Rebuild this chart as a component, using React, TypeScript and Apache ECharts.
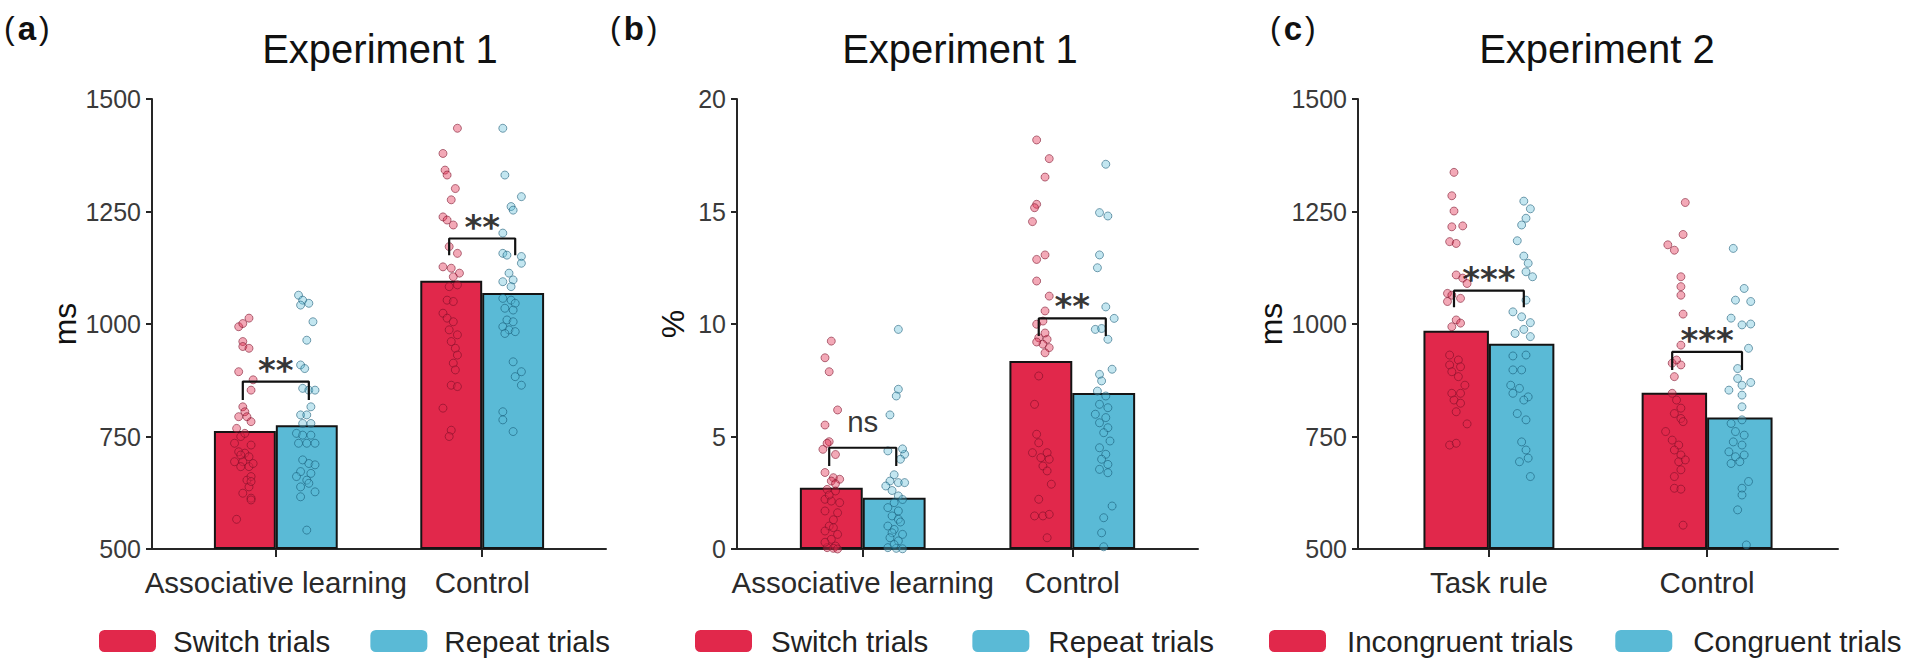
import React, { useEffect, useRef } from "react";
import * as echarts from "echarts";

// ---------------- data ----------------
const catsExp1 = ["Associative learning", "Control"];
const catsExp2 = ["Task rule", "Control"];
const titles = ["Experiment 1", "Experiment 1", "Experiment 2"];
const panelLetters = ["a", "b", "c"];
const yNames = ["ms", "%", "ms"];
const legendExp1 = ["Switch trials", "Repeat trials"];
const legendExp2 = ["Incongruent trials", "Congruent trials"];

const ticksRT = [500, 750, 1000, 1250, 1500];
const ticksErr = [0, 5, 10, 15, 20];

// bar means [category1, category2]
const meansA_switch = [762, 1096];
const meansA_repeat = [775, 1069];
const meansB_switch = [2.72, 8.36];
const meansB_repeat = [2.28, 6.93];
const meansC_incong = [985, 847];
const meansC_cong = [956, 792];

// significance brackets [top, leg end]
const bracketsA = [[872, 831], [1190, 1153]];
const bracketsB = [[4.5, 3.69], [10.25, 9.47]];
const bracketsC = [[1074, 1037], [938, 898]];
const marksA = ["**", "**"];
const marksB = ["ns", "**"];
const marksC = ["***", "***"];

// individual points: [jitter (category units), value]
const ptsA_AL_switch = [[-0.03,994],[-0.01,1001],[0.02,1013],[-0.01,961],[-0.01,950],[0.02,946],[-0.03,894],[0.04,876],[0.03,853],[-0.01,816],[0.0,805],[-0.03,794],[0.01,794],[0.03,783],[-0.04,768],[-0.02,750],[-0.05,735],[-0.03,716],[0.0,713],[-0.05,694],[-0.01,694],[0.02,683],[-0.02,683],[0.01,653],[0.02,638],[-0.01,624],[0.03,613],[-0.04,566],[0.0,757],[0.03,731],[-0.02,709],[0.02,705],[0.04,690],[0.03,661],[0.03,650],[0.03,609]];
const ptsA_AL_repeat = [[-0.04,1064],[-0.02,1053],[0.01,1046],[-0.03,1042],[0.03,1005],[0.0,964],[-0.03,909],[-0.01,901],[-0.02,857],[0.01,853],[0.04,853],[0.02,816],[-0.03,798],[0.0,798],[-0.02,779],[0.02,779],[-0.05,757],[-0.02,753],[0.02,753],[-0.04,735],[0.0,735],[0.04,735],[-0.02,698],[0.01,690],[0.04,687],[-0.03,672],[0.02,668],[-0.05,661],[0.0,653],[0.01,646],[-0.03,638],[0.04,627],[-0.03,616],[0.0,542]];
const ptsA_CT_switch = [[0.03,1435],[-0.04,1379],[-0.03,1342],[-0.02,1331],[0.02,1301],[0.0,1276],[-0.04,1238],[-0.02,1231],[0.01,1220],[-0.01,1172],[0.03,1157],[-0.04,1127],[0.0,1124],[0.04,1113],[0.01,1105],[-0.01,1083],[0.03,1087],[-0.02,1053],[0.01,1050],[-0.04,1024],[-0.02,1013],[0.01,1005],[-0.01,987],[0.03,976],[0.0,961],[0.02,946],[0.03,931],[0.01,913],[0.02,898],[0.0,864],[0.03,861],[-0.04,813],[0.0,764],[-0.01,750]];
const ptsA_CT_repeat = [[-0.05,1435],[-0.04,1331],[0.04,1283],[-0.01,1261],[0.0,1253],[-0.05,1202],[-0.05,1157],[-0.03,1153],[0.04,1150],[0.04,1135],[-0.02,1113],[0.0,1098],[-0.05,1094],[-0.01,1083],[-0.05,1057],[-0.01,1053],[0.01,1046],[-0.04,1035],[0.0,1031],[-0.03,1009],[0.0,1005],[-0.05,994],[-0.02,987],[0.01,983],[-0.04,979],[0.0,916],[0.04,894],[0.01,883],[0.04,864],[-0.05,805],[-0.05,787],[0.0,761]];

const ptsB_AL_switch = [[0.0,9.24],[-0.03,8.5],[-0.01,7.88],[0.03,6.18],[-0.03,5.51],[-0.01,4.77],[-0.04,4.43],[0.01,3.17],[0.04,3.1],[0.0,3.02],[-0.02,2.65],[0.02,2.58],[-0.03,2.21],[0.0,2.13],[0.04,2.06],[-0.03,1.69],[0.03,1.61],[-0.01,1.02],[0.01,0.95],[-0.03,0.8],[0.03,0.65],[0.0,0.43],[0.02,0.13],[-0.02,0.06],[0.01,0.03],[-0.02,4.7],[0.02,4.2],[-0.03,3.4],[0.02,2.9],[0.01,1.3],[-0.03,0.3],[0.03,0.0],[-0.01,2.4]];
const ptsB_AL_repeat = [[0.02,9.76],[0.02,7.1],[0.01,6.8],[-0.02,5.96],[-0.03,4.36],[0.05,4.21],[0.03,3.99],[-0.02,3.02],[0.02,2.95],[0.05,2.95],[-0.04,2.8],[0.02,2.36],[0.0,2.06],[-0.03,1.84],[0.02,1.69],[-0.01,1.47],[0.02,1.32],[-0.03,1.02],[0.0,0.87],[-0.01,0.72],[0.04,0.65],[0.02,0.36],[-0.03,0.06],[0.01,0.03],[0.04,0.01],[0.04,4.45],[-0.01,2.6],[0.03,1.2],[-0.02,0.5],[0.0,0.2],[0.04,2.2],[0.0,3.3]];
const ptsB_CT_switch = [[-0.02,18.18],[0.04,17.35],[0.02,16.53],[-0.02,15.32],[-0.03,15.17],[-0.04,14.55],[0.02,13.07],[-0.02,12.87],[-0.02,11.91],[0.04,11.24],[0.02,10.58],[0.01,10.13],[-0.02,9.99],[-0.01,9.39],[0.03,9.32],[0.01,9.1],[0.04,8.95],[0.02,8.72],[-0.01,7.69],[-0.03,6.43],[-0.02,5.1],[-0.01,4.72],[-0.04,4.28],[0.03,4.28],[0.0,4.06],[0.04,3.99],[0.01,3.69],[0.03,3.47],[0.05,2.88],[-0.01,2.21],[-0.03,1.47],[0.01,1.47],[0.04,1.54],[0.03,0.5],[0.02,9.6],[-0.02,9.2]];
const ptsB_CT_repeat = [[0.01,17.1],[-0.02,14.95],[0.02,14.8],[-0.02,13.07],[-0.03,12.5],[0.01,10.76],[0.05,10.25],[-0.04,9.76],[0.02,9.32],[0.04,7.99],[-0.02,7.76],[-0.01,7.47],[-0.03,7.02],[0.01,6.8],[-0.02,6.43],[0.02,6.28],[-0.04,5.99],[0.01,5.84],[-0.02,5.61],[0.02,5.39],[0.0,5.17],[0.03,4.8],[-0.02,4.5],[0.01,4.21],[-0.01,3.99],[0.02,3.76],[-0.02,3.54],[0.02,3.39],[0.04,1.91],[0.0,1.39],[-0.01,0.72],[-0.01,9.8],[0.0,0.1]];

const ptsC_TR_incong = [[-0.01,1337],[-0.02,1285],[-0.01,1251],[-0.02,1216],[0.03,1218],[-0.03,1183],[0.0,1179],[0.0,1109],[0.03,1102],[0.05,1090],[-0.04,1068],[-0.02,1064],[0.02,1057],[-0.04,1050],[0.0,1009],[0.02,1002],[-0.02,994],[-0.03,931],[0.01,920],[-0.03,909],[0.02,905],[-0.02,894],[0.01,883],[0.04,864],[-0.02,846],[0.02,846],[-0.01,831],[0.02,824],[0.0,805],[0.05,778],[-0.03,731],[0.0,735]];
const ptsC_TR_cong = [[0.01,1273],[0.04,1256],[0.02,1235],[0.0,1220],[-0.02,1185],[0.01,1151],[0.03,1135],[0.02,1116],[0.05,1105],[0.02,1053],[-0.04,1027],[0.0,1016],[0.04,1003],[0.01,988],[-0.03,979],[0.04,972],[-0.04,929],[0.02,931],[-0.04,898],[0.0,898],[-0.05,864],[-0.01,857],[0.03,838],[-0.04,846],[0.01,831],[-0.02,801],[0.02,787],[0.0,738],[0.02,720],[-0.01,694],[0.03,702],[0.04,661]];
const ptsC_CT_incong = [[0.05,1270],[0.04,1199],[-0.03,1176],[0.0,1164],[0.03,1105],[0.03,1083],[0.03,1064],[0.04,1022],[0.03,953],[0.01,920],[-0.01,913],[0.03,909],[0.0,883],[-0.01,846],[0.01,831],[0.03,813],[0.0,801],[0.03,790],[0.04,783],[-0.04,761],[-0.01,742],[0.02,731],[0.0,720],[0.03,709],[0.02,694],[0.05,698],[0.03,676],[0.0,661],[0.0,635],[0.03,633],[0.04,553]];
const ptsC_CT_cong = [[-0.03,1168],[0.02,1079],[-0.02,1053],[-0.04,1013],[0.01,998],[0.04,946],[-0.01,901],[-0.05,853],[-0.01,879],[0.01,864],[0.01,842],[0.01,816],[-0.04,779],[0.01,787],[-0.02,761],[0.02,753],[-0.03,738],[0.01,731],[-0.05,716],[-0.02,705],[0.02,709],[-0.04,690],[0.0,694],[0.04,650],[0.01,635],[0.01,620],[-0.01,587],[0.03,509],[0.05,1050],[0.05,1000],[0.05,870]];

// ---------------- styling / layout ----------------
const FONT = '"Liberation Sans", Arial, Helvetica, sans-serif';
const RED = "#E1284B";
const BLUE = "#5ABAD6";
const RED_PT = "rgba(225,40,75,0.5)";
const RED_PT_EDGE = "rgba(120,15,40,0.7)";
const BLUE_PT = "rgba(90,186,214,0.45)";
const BLUE_PT_EDGE = "rgba(20,85,115,0.7)";
const X_MIN = 0.4;
const X_MAX = 2.6;
const BAR_UNITS = 0.3;
const TOP = 99;
const HEIGHT = 450;

const panels = [
  {
    cats: catsExp1, legend: legendExp1, ticks: ticksRT,
    means: [meansA_switch, meansA_repeat],
    pts: [[ptsA_AL_switch, ptsA_CT_switch], [ptsA_AL_repeat, ptsA_CT_repeat]],
    brackets: bracketsA, marks: marksA,
    left: 152, width: 454, legendLeft: 99, legendPad: 12, legendGap: 40,
    titleX: 380, letterX: 4, nameGap: 71,
  },
  {
    cats: catsExp1, legend: legendExp1, ticks: ticksErr,
    means: [meansB_switch, meansB_repeat],
    pts: [[ptsB_AL_switch, ptsB_CT_switch], [ptsB_AL_repeat, ptsB_CT_repeat]],
    brackets: bracketsB, marks: marksB,
    left: 737, width: 461, legendLeft: 695, legendPad: 14, legendGap: 44,
    titleX: 960, letterX: 610, nameGap: 48,
  },
  {
    cats: catsExp2, legend: legendExp2, ticks: ticksRT,
    means: [meansC_incong, meansC_cong],
    pts: [[ptsC_TR_incong, ptsC_CT_incong], [ptsC_TR_cong, ptsC_CT_cong]],
    brackets: bracketsC, marks: marksC,
    left: 1358, width: 480, legendLeft: 1269, legendPad: 16, legendGap: 42,
    titleX: 1597, letterX: 1270, nameGap: 66,
  },
];

function buildOption() {
  const grid: any[] = [];
  const xAxis: any[] = [];
  const yAxis: any[] = [];
  const series: any[] = [];
  const legend: any[] = [];
  const graphic: any[] = [];

  panels.forEach((p, i) => {
    const unitPx = p.width / (X_MAX - X_MIN);
    const barW = BAR_UNITS * unitPx;
    grid.push({ left: p.left, top: TOP, width: p.width, height: HEIGHT, containLabel: false });
    xAxis.push({
      type: "value", gridIndex: i, min: X_MIN, max: X_MAX,
      axisLine: { show: true, onZero: false, lineStyle: { color: "#262626", width: 2 } },
      axisTick: { show: true, customValues: [1, 2], length: 8, lineStyle: { color: "#262626", width: 2 } },
      axisLabel: {
        show: true, customValues: [1, 2], margin: 18,
        formatter: (v: number) => p.cats[Math.round(v) - 1] || "",
        fontSize: 29.5, fontFamily: FONT, color: "#2a2a2a",
      },
      splitLine: { show: false },
    });
    const t = p.ticks;
    yAxis.push({
      type: "value", gridIndex: i, min: t[0], max: t[t.length - 1], interval: t[1] - t[0],
      startValue: t[0],
      name: yNames[i], nameLocation: "middle", nameGap: p.nameGap, nameRotate: 90,
      nameTextStyle: { fontSize: 32, fontFamily: FONT, color: "#111" },
      axisLine: { show: true, lineStyle: { color: "#262626", width: 2 } },
      axisTick: { show: true, length: 6, lineStyle: { color: "#262626", width: 2 } },
      axisLabel: {
        margin: 11, fontSize: 25, fontFamily: FONT, color: "#3a3a3a",
        formatter: (v: number) => String(v),
      },
      splitLine: { show: false },
    });

    // bars
    [0, 1].forEach((k) => {
      series.push({
        type: "bar", name: p.legend[k], xAxisIndex: i, yAxisIndex: i,
        data: p.means[k].map((v, c) => [c + 1, v]),
        barWidth: barW, barGap: "0%",
        itemStyle: { color: k === 0 ? RED : BLUE, borderColor: "#141414", borderWidth: 2 },
        z: 2, silent: true,
      });
    });

    // points
    [0, 1].forEach((k) => {
      const off = k === 0 ? -BAR_UNITS / 2 : BAR_UNITS / 2;
      const data: number[][] = [];
      p.pts[k].forEach((arr, c) => {
        arr.forEach(([dx, v]) => data.push([c + 1 + off + dx, v]));
      });
      series.push({
        type: "scatter", name: "points-" + i + "-" + k, xAxisIndex: i, yAxisIndex: i,
        data, symbol: "circle", symbolSize: 8,
        itemStyle: {
          color: k === 0 ? RED_PT : BLUE_PT,
          borderColor: k === 0 ? RED_PT_EDGE : BLUE_PT_EDGE, borderWidth: 1,
        },
        z: 3, silent: true,
      });
    });

    // brackets
    p.brackets.forEach((b, c) => {
      const cx = c + 1;
      const h = BAR_UNITS / 2 + 0.01;
      series.push({
        type: "line", name: "bracket-" + i + "-" + c, xAxisIndex: i, yAxisIndex: i,
        data: [[cx - h, b[1]], [cx - h, b[0]], [cx + h, b[0]], [cx + h, b[1]]],
        symbol: "none", lineStyle: { color: "#111", width: 2.2 }, z: 4, silent: true,
      });
    });

    // significance marks
    series.push({
      type: "scatter", name: "marks-" + i, xAxisIndex: i, yAxisIndex: i,
      symbolSize: 1, itemStyle: { color: "rgba(0,0,0,0)" }, z: 5, silent: true,
      data: p.brackets.map((b, c) => ({
        name: p.marks[c],
        value: [c + 1, b[0]],
        label: p.marks[c] === "ns"
          ? { show: true, position: "inside", formatter: "{b}", fontFamily: FONT, fontWeight: "normal", fontSize: 29.5, color: "#000", offset: [0, -26] }
          : { show: true, position: "inside", formatter: "{b}", fontFamily: '"DejaVu Sans", sans-serif', fontWeight: "bold", fontSize: 34, color: "#000", offset: [0, -12] },
      })),
    });

    legend.push({
      data: p.legend, left: p.legendLeft, top: 626, orient: "horizontal", padding: 0,
      itemWidth: 57, itemHeight: 22, itemGap: p.legendGap, icon: "roundRect",
      selectedMode: false, itemStyle: { borderWidth: 0 },
      textStyle: { fontSize: 29.5, fontFamily: FONT, color: "#222", padding: [0, 0, 0, p.legendPad] },
    });

    graphic.push({
      type: "text", x: p.titleX, y: 49, silent: true,
      style: { text: titles[i], fontSize: 40, fontFamily: FONT, fill: "#111", align: "center", verticalAlign: "middle" },
    });
    graphic.push({
      type: "text", x: p.letterX, y: 28, silent: true,
      style: {
        text: "{p|(}{b|" + panelLetters[i] + "}{p|)}",
        align: "left", verticalAlign: "middle",
        rich: {
          p: { fontSize: 32, fontFamily: FONT, fill: "#111" },
          b: { fontSize: 33, fontFamily: FONT, fontWeight: "bold", fill: "#111", padding: [0, 3, 0, 3] },
        },
      },
    });
  });

  return { animation: false, backgroundColor: "#ffffff", grid, xAxis, yAxis, series, legend, graphic };
}

export default function App() {
  const ref = useRef<HTMLDivElement>(null);
  useEffect(() => {
    if (!ref.current) return;
    const chart = echarts.init(ref.current, undefined, { renderer: "svg" });
    chart.setOption(buildOption() as any);
    return () => chart.dispose();
  }, []);
  return (
    <div
      ref={ref}
      style={{ position: "fixed", left: 0, top: 0, width: 1908, height: 660, background: "#fff" }}
    />
  );
}
